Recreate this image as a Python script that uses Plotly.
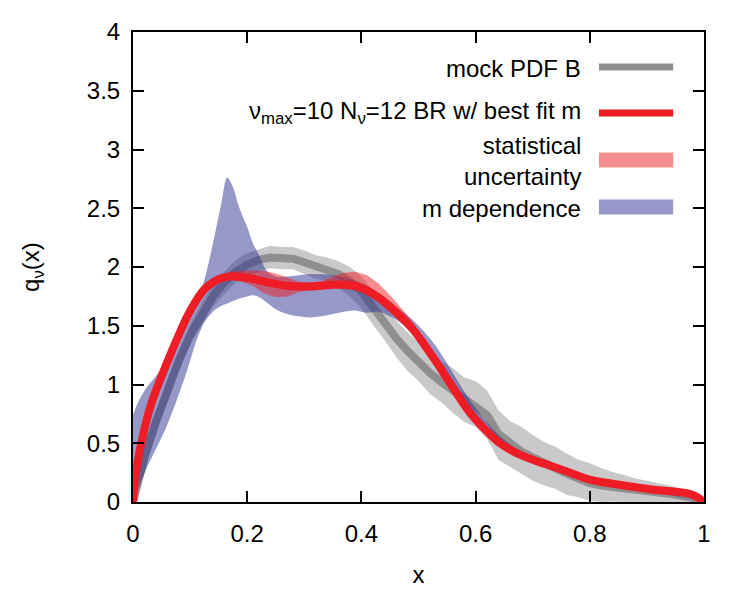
import plotly.graph_objects as go

# ---------------- data ----------------
# mock PDF B (noisy central line) and its band
x_mock = [0, .01, .02, .04, .06, .08, .1, .12, .14, .16, .18, .2, .22, .24, .26, .28, .3, .32, .34, .36,
          .38, .40, .42, .44, .46, .48, .50, .52, .54, .56, .58, .60, .62, .64, .66, .68, .70, .72, .74,
          .76, .78, .80, .82, .84, .86, .88, .90, .92, .94, .96, .98, 1.0]
q_mock = [0, .20, .38, .68, .95, 1.20, 1.42, 1.60, 1.75, 1.87, 1.96, 2.02, 2.06, 2.08, 2.08, 2.07, 2.04,
          2.01, 1.98, 1.94, 1.88, 1.79, 1.66, 1.52, 1.40, 1.29, 1.19, 1.10, 1.02, .95, .88, .83, .74, .58,
          .50, .43, .38, .33, .28, .24, .20, .16, .14, .125, .11, .10, .09, .08, .07, .055, .035, 0]
mock_err_hi = [.02, .05, .06, .07, .08, .08, .09, .09, .10, .09, .10, .10, .09, .10, .09, .10, .10, .09,
               .10, .11, .12, .13, .14, .15, .15, .16, .17, .16, .18, .19, .18, .20, .21, .20, .19, .21,
               .19, .18, .19, .17, .16, .17, .15, .13, .12, .10, .09, .08, .07, .06, .04, .01]
mock_err_lo = [0, .05, .06, .07, .08, .09, .08, .10, .09, .10, .09, .10, .10, .09, .10, .09, .10, .11,
               .10, .12, .13, .14, .15, .14, .16, .17, .16, .18, .17, .19, .20, .19, .20, .22, .20, .19,
               .20, .19, .17, .18, .16, .15, .14, .12, .11, .10, .09, .08, .07, .055, .035, 0]

# best fit reconstruction and its statistical uncertainty
x_fit = [0, .004, .012, .025, .035, .05, .065, .08, .095, .11, .125, .14, .155, .17, .19, .21, .23, .25,
         .27, .29, .31, .33, .35, .37, .39, .41, .43, .45, .47, .49, .51, .53, .55, .57, .59, .61, .64,
         .67, .70, .73, .76, .80, .84, .88, .92, .95, .97, .985, 1.0]
q_fit = [0, .22, .44, .72, .88, 1.07, 1.25, 1.42, 1.58, 1.71, 1.81, 1.87, 1.905, 1.92, 1.915, 1.90,
         1.875, 1.855, 1.84, 1.835, 1.835, 1.84, 1.85, 1.85, 1.84, 1.80, 1.74, 1.66, 1.57, 1.47, 1.34,
         1.20, 1.05, .90, .76, .65, .51, .42, .36, .31, .26, .19, .155, .125, .10, .088, .075, .05, 0]
fit_err_hi = [0, .02, .03, .03, .03, .03, .03, .03, .03, .03, .03, .03, .03, .04, .05, .07, .09, .09,
              .07, .04, .03, .04, .07, .10, .12, .13, .12, .10, .08, .06, .04, .03, .03, .03, .03, .03,
              .03, .03, .02, .02, .02, .02, .02, .02, .02, .02, .02, .02, 0]
fit_err_lo = [0, .02, .03, .03, .03, .03, .03, .03, .03, .03, .03, .03, .03, .03, .04, .06, .10, .11,
              .09, .05, .03, .03, .03, .04, .04, .04, .04, .04, .03, .03, .03, .03, .03, .03, .03, .03,
              .03, .03, .02, .02, .02, .02, .02, .02, .02, .02, .02, .02, 0]

# m dependence band
x_m = [0, .01, .025, .04, .055, .07, .085, .1, .11, .12, .125, .14, .155, .165, .175, .185, .2, .21,
       .222, .234, .25, .27, .29, .31, .33, .35, .37, .39, .41, .43, .45, .47, .49, .51, .53, .55, .57,
       .6, .65, .7, .8, .9, 1.0]
m_hi = [.74, .86, .98, 1.07, 1.17, 1.30, 1.45, 1.60, 1.70, 1.82, 1.89, 2.20, 2.55, 2.76, 2.68, 2.52,
        2.34, 2.20, 2.09, 1.97, 1.92, 1.92, 1.93, 1.94, 1.94, 1.93, 1.91, 1.88, 1.84, 1.78, 1.71, 1.63,
        1.55, 1.45, 1.33, 1.18, 1.02, .80, .53, .38, .21, .11, 0]
m_lo = [0, .12, .30, .45, .60, .78, .98, 1.20, 1.36, 1.48, 1.53, 1.62, 1.67, 1.69, 1.71, 1.73, 1.75,
        1.76, 1.74, 1.70, 1.64, 1.60, 1.58, 1.57, 1.58, 1.60, 1.62, 1.63, 1.61, 1.62, 1.58, 1.52, 1.42,
        1.29, 1.15, 1.00, .86, .66, .46, .33, .18, .095, 0]

legend_labels = ["mock PDF B",
                 "ν<sub>max</sub>=10 N<sub>ν</sub>=12 BR w/ best fit m",
                 "statistical<br>uncertainty",
                 "m dependence"]
x_ticks = [0, 0.2, 0.4, 0.6, 0.8, 1]
x_ticklabels = ["0", "0.2", "0.4", "0.6", "0.8", "1"]
y_ticks = [0, 0.5, 1, 1.5, 2, 2.5, 3, 3.5, 4]
y_ticklabels = ["0", "0.5", "1", "1.5", "2", "2.5", "3", "3.5", "4"]

# ---------------- styles ----------------
FONT = "Liberation Sans, Arial, sans-serif"
FS = 24
C_GRAY_BAND = "#c9c9c9"
C_GRAY = "#8f8f8f"
C_RED = "#ee1c24"
C_RED_BAND = "rgba(238,28,36,0.5)"
C_BLUE_BAND = "rgba(45,50,145,0.5)"


def band(x, lo, hi):
    return list(x) + list(x[::-1]), list(hi) + list(lo[::-1])


fig = go.Figure()

bx, by = band(x_mock, [max(0, q - e) for q, e in zip(q_mock, mock_err_lo)],
              [q + e for q, e in zip(q_mock, mock_err_hi)])
fig.add_trace(go.Scatter(x=bx, y=by, fill="toself", fillcolor=C_GRAY_BAND, mode="none",
                         line=dict(width=0), hoverinfo="skip", showlegend=False))
fig.add_trace(go.Scatter(x=x_mock, y=q_mock, mode="lines", line=dict(color=C_GRAY, width=8),
                         showlegend=False))

bx, by = band(x_m, m_lo, m_hi)
fig.add_trace(go.Scatter(x=bx, y=by, fill="toself", fillcolor=C_BLUE_BAND, mode="none",
                         line=dict(width=0, shape="spline"), hoverinfo="skip", showlegend=False))

bx, by = band(x_fit, [q - e for q, e in zip(q_fit, fit_err_lo)],
              [q + e for q, e in zip(q_fit, fit_err_hi)])
fig.add_trace(go.Scatter(x=bx, y=by, fill="toself", fillcolor=C_RED_BAND, mode="none",
                         line=dict(width=0), hoverinfo="skip", showlegend=False))

fig.add_trace(go.Scatter(x=x_fit, y=q_fit, mode="lines", line=dict(color=C_RED, width=8, shape="spline"),
                         showlegend=False))

# ---------------- manual legend (text right-aligned, sample on the right) ----------------
text_x = 0.788
sw_x0, sw_x1 = 0.816, 0.946
rows = [
    (legend_labels[0], 0.9234, 0.9255, C_GRAY, 7),
    (legend_labels[1], 0.8277, 0.8277, C_RED, 7),
    (legend_labels[2], 0.7255, 0.7277, "#f48d90", 15),
    (legend_labels[3], 0.6255, 0.6277, "#9699c9", 15),
]
for label, ty, sy, col, w in rows:
    fig.add_annotation(x=text_x, y=ty, xref="paper", yref="paper", text=label, showarrow=False,
                       xanchor="right", yanchor="middle", align="right",
                       font=dict(family=FONT, size=FS, color="black"))
    fig.add_shape(type="line", xref="paper", yref="paper", x0=sw_x0, x1=sw_x1, y0=sy, y1=sy,
                  line=dict(color=col, width=w))

axis_common = dict(showline=True, linecolor="black", linewidth=2, mirror="ticks", ticks="inside",
                   ticklen=11, tickwidth=2, tickcolor="black", showgrid=False, zeroline=False,
                   tickfont=dict(family=FONT, size=FS, color="black"))

fig.update_layout(
    width=750, height=600,
    margin=dict(l=133, r=46, t=32, b=98),
    paper_bgcolor="white", plot_bgcolor="white",
    font=dict(family=FONT, size=FS, color="black"),
    xaxis=dict(range=[0, 1], tickvals=x_ticks, ticktext=x_ticklabels, ticklabelstandoff=9,
               title=dict(text="x", font=dict(family=FONT, size=FS), standoff=20), **axis_common),
    yaxis=dict(range=[0, 4], tickvals=y_ticks, ticktext=y_ticklabels, ticklabelstandoff=6,
               title=dict(text="q<sub>ν</sub>(x)", font=dict(family=FONT, size=FS), standoff=40),
               **axis_common),
)

fig.write_html("out.html")
